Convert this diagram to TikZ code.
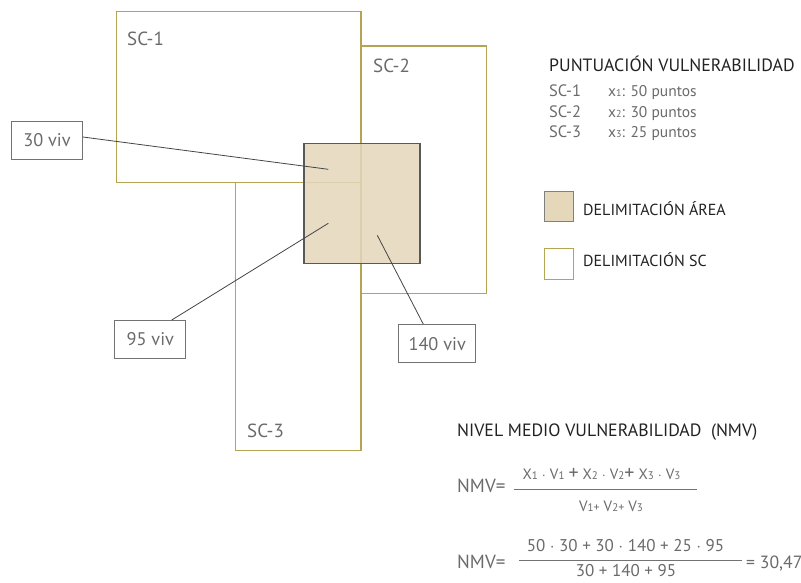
\documentclass[tikz,border=0pt]{standalone}
\usepackage{fontspec}
\setmainfont{PT Sans}
\usetikzlibrary{calc}
\definecolor{scc}{HTML}{B3A552}
\definecolor{areac}{HTML}{E4D7BA}
\definecolor{txtg}{HTML}{6A6A6A}
\definecolor{txtd}{HTML}{222222}
\definecolor{wirec}{HTML}{444444}
\newcommand{\fs}[1]{\fontsize{#1}{#1}\selectfont}
\begin{document}
\begin{tikzpicture}[x=1pt,y=-1pt,
  scbox/.style={draw=scc,line width=1.2pt},
  areabox/.style={draw=black!65,line width=1.4pt,fill=areac,fill opacity=0.85},
  vivbox/.style={draw=black!55,line width=0.9pt,minimum width=71pt,minimum height=38pt,inner sep=0pt,text=txtg,font=\fs{18.3}},
  lbl/.style={anchor=base west,inner sep=0pt,text=txtg,font=\fs{16}},
  ttl/.style={anchor=base west,inner sep=0pt,text=txtd,font=\fs{17.8}},
  cen/.style={anchor=base,inner sep=0pt,text=txtg},
  wire/.style={draw=wirec,line width=0.8pt},
  fl/.style={draw=black!55,line width=1pt}
]
\useasboundingbox (0,0) rectangle (801,582);
% SC rectangles
\draw[scbox] (116.7,11.7) rectangle (361,182.7);
\draw[scbox] (361,46) rectangle (486.7,293.7);
\draw[scbox] (235.7,182.7) rectangle (361,450.7);
% area
\draw[areabox] (304,143.3) rectangle (420,263.7);
% SC labels
\node[lbl,font=\fs{19}] (l1) at (127,45) {SC-1};
\node[lbl,font=\fs{19}] (l2) at (373,72.7) {SC-2};
\node[lbl,font=\fs{19}] (l3) at (247,437.7) {SC-3};
% viv boxes
\node[vivbox] (b30) at (47,140) {30 viv};
\node[vivbox] (b95) at (150.3,339.5) {95 viv};
\node[vivbox,minimum width=77pt] (b140) at (437.2,343.6) {140 viv};
\coordinate (p30) at (328.3,169.3);
\coordinate (p95) at (328.3,223.3);
\coordinate (p140) at (377.3,235.3);
\draw[wire] ($(b30.east)+(0,-3)$) -- (p30);
\draw[wire] ($(b95.north)+(21.4,0)$) -- (p95);
\draw[wire] ($(b140.north)+(-13.9,0)$) -- (p140);
% legend
\node[ttl] (t1) at (549,71) {PUNTUACIÓN VULNERABILIDAD};
\node[lbl,font=\fs{16.5}] (s1) at (549,96.5) {SC-1};
\node[lbl,font=\fs{16.5}] (s2) at (549,117) {SC-2};
\node[lbl,font=\fs{16.5}] (s3) at (549,137.5) {SC-3};
\node[lbl,font=\fs{15.5}] (x1) at (608,96.5) {x{\fs{10}1}: 50 puntos};
\node[lbl,font=\fs{15.5}] (x2) at (608,117) {x{\fs{10}2}: 30 puntos};
\node[lbl,font=\fs{15.5}] (x3) at (608,137.5) {x{\fs{10}3}: 25 puntos};
\draw[draw=black!50,line width=1pt,fill=areac] (544,191) rectangle (573,221);
\draw[draw=scc,line width=1pt] (544,248) rectangle (573,279);
\node[ttl,font=\fs{16}] (la) at (583,215) {DELIMITACIÓN ÁREA};
\node[ttl,font=\fs{16}] (lsc) at (583,266) {DELIMITACIÓN SC};
% formula title
\node[ttl] (t2) at (457,436.5) {NIVEL MEDIO VULNERABILIDAD\ \ (NMV)};
% formula 1
\node[lbl,font=\fs{19}] (n1) at (457,492) {NMV=};
\draw[fl] (514,489.5) -- (697,489.5);
\node[cen,font=\fs{15}] (num1) at (601.5,479) {X{\fs{11}1} $\cdot$ V{\fs{11}1} {\fs{20}+} X{\fs{11}2} $\cdot$ V{\fs{11}2}{\fs{20}+} X{\fs{11}3} $\cdot$ V{\fs{11}3}};
\node[cen,font=\fs{15}] (den1) at (611,511.5) {V{\fs{11}1}{\fs{12}+} V{\fs{11}2}{\fs{12}+} V{\fs{11}3}};
% formula 2
\node[lbl,font=\fs{19}] (n2) at (457,568) {NMV=};
\draw[fl] (519,560) -- (742,560);
\node[cen,font=\fs{17}] (num2) at (625.5,551.5) {50 $\cdot$ 30 + 30 $\cdot$ 140 + 25 $\cdot$ 95};
\node[cen,font=\fs{17}] (den2) at (626,576) {30 + 140 + 95};
\node[lbl,font=\fs{17.7}] (res) at (746,568) {= 30,47};
\end{tikzpicture}
\end{document}
